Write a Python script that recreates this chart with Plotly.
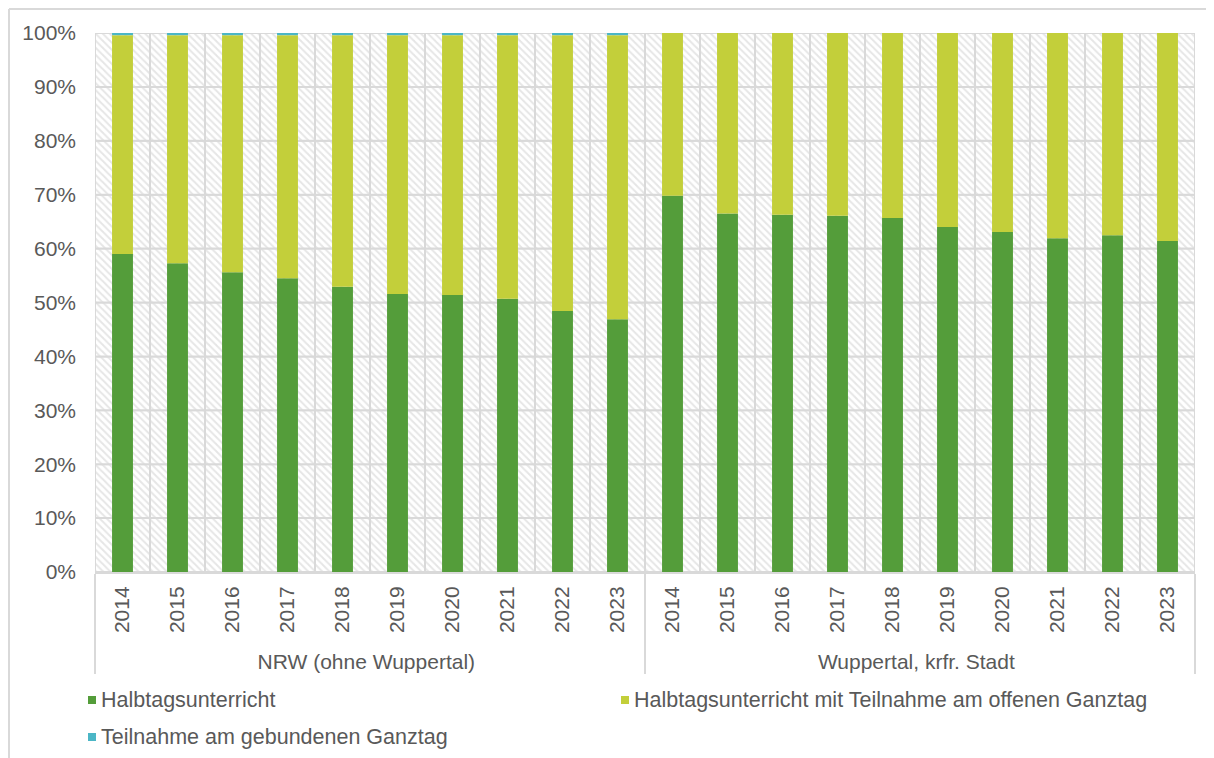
import numpy as np
import plotly.graph_objects as go

# ---------------- data ----------------
regions = ["NRW (ohne Wuppertal)", "Wuppertal, krfr. Stadt"]
years = ["2014", "2015", "2016", "2017", "2018", "2019", "2020", "2021", "2022", "2023"]

series_names = [
    "Halbtagsunterricht",
    "Halbtagsunterricht mit Teilnahme am offenen Ganztag",
    "Teilnahme am gebundenen Ganztag",
]

halbtag_nrw = [59.0, 57.3, 55.6, 54.5, 52.9, 51.6, 51.4, 50.7, 48.4, 46.9]
offen_nrw = [40.6, 42.3, 44.0, 45.1, 46.7, 48.0, 48.2, 48.9, 51.2, 52.7]
gebunden_nrw = [0.4, 0.4, 0.4, 0.4, 0.4, 0.4, 0.4, 0.4, 0.4, 0.4]

halbtag_wup = [69.8, 66.5, 66.3, 66.1, 65.7, 64.0, 63.1, 61.9, 62.5, 61.4]
offen_wup = [30.2, 33.5, 33.7, 33.9, 34.3, 36.0, 36.9, 38.1, 37.5, 38.6]
gebunden_wup = [0.0, 0.0, 0.0, 0.0, 0.0, 0.0, 0.0, 0.0, 0.0, 0.0]

y_ticks = [0, 10, 20, 30, 40, 50, 60, 70, 80, 90, 100]
y_ticktext = ["0%", "10%", "20%", "30%", "40%", "50%", "60%", "70%", "80%", "90%", "100%"]

# ---------------- styling ----------------
colors = ["#549d3a", "#c3cf3a", "#4bb6c6"]
grid_color = "#d9d9d9"
text_color = "#595959"
FONT = "Liberation Sans, Arial, sans-serif"
FS = 21

# page body adds an 8px offset; work in screenshot pixels via OFF
OFF = 8
W, H = 1214 - OFF, 758 - OFF
PL, PR, PT, PB = 95, 1195, 33, 572          # plot area in screenshot px
ML, MT = PL - OFF, PT - OFF
MR, MB = W - (PR - OFF), H - (PB - OFF)
PW, PH = PR - PL, PB - PT


def px_x(px):
    return (px - PL) / PW


def px_y(py):
    return (PB - py) / PH


x_outer = [r for r in regions for _ in years]
x_inner = [y for _ in regions for y in years]
xcat = [x_outer, x_inner]

values = [
    np.array(halbtag_nrw + halbtag_wup),
    np.array(offen_nrw + offen_wup),
    np.array(gebunden_nrw + gebunden_wup),
]
bases = [np.zeros(len(x_inner))]
for v in values[:-1]:
    bases.append(bases[-1] + v)

fig = go.Figure()

# hatched background cells (form the grid)
step = y_ticks[1] - y_ticks[0]
hx_outer, hx_inner, hbase, hy = [], [], [], []
for t in y_ticks[:-1]:
    hx_outer += x_outer
    hx_inner += x_inner
    hbase += [t] * len(x_inner)
    hy += [step] * len(x_inner)
fig.add_trace(go.Bar(
    x=[hx_outer, hx_inner], y=hy, base=hbase, width=1,
    marker=dict(color="white",
                pattern=dict(shape="\\", fgcolor="#cdcdcd", bgcolor="white",
                             size=5, solidity=0.4),
                line=dict(color=grid_color, width=2)),
    opacity=1, showlegend=False, hoverinfo="skip",
))

for name, v, b, c in zip(series_names, values, bases, colors):
    fig.add_trace(go.Bar(
        x=xcat, y=v, base=b, name=name, width=0.38,
        marker=dict(color=c, line=dict(width=0)),
        opacity=1, showlegend=False,
    ))

# manual legend
legend_pos = [(88, 700), (621, 700), (88, 737)]
shapes = []
annotations = []
for (lx, ly), name, c in zip(legend_pos, series_names, colors):
    shapes.append(dict(type="rect", xref="paper", yref="paper",
                       x0=px_x(lx), x1=px_x(lx + 8), y0=px_y(ly - 4), y1=px_y(ly + 4),
                       fillcolor=c, line=dict(width=0)))
    annotations.append(dict(xref="paper", yref="paper", x=px_x(lx + 11), y=px_y(ly),
                            xanchor="left", yanchor="middle", showarrow=False,
                            text=name, font=dict(family=FONT, size=21.5, color=text_color)))

# outer frame (top and left edges)
shapes.append(dict(type="line", xref="paper", yref="paper",
                   x0=px_x(9), x1=px_x(1230), y0=px_y(9), y1=px_y(9),
                   line=dict(color=grid_color, width=2)))
shapes.append(dict(type="line", xref="paper", yref="paper",
                   x0=px_x(9), x1=px_x(9), y0=px_y(9), y1=px_y(800),
                   line=dict(color=grid_color, width=2)))

fig.update_layout(
    width=W, height=H,
    margin=dict(l=ML, r=MR, t=MT, b=MB, autoexpand=False),
    barmode="overlay",
    paper_bgcolor="white", plot_bgcolor="white",
    font=dict(family=FONT, size=FS, color=text_color),
    shapes=shapes, annotations=annotations,
    showlegend=False,
)
fig.update_xaxes(
    type="multicategory", tickangle=-90, showgrid=False, zeroline=False,
    showline=True, linecolor=grid_color, linewidth=2,
    showdividers=True, dividercolor=grid_color, dividerwidth=2,
    ticks="", ticklabelstandoff=4,
    tickfont=dict(family=FONT, size=FS, color=text_color),
)
fig.update_yaxes(
    range=[0, 100], tickmode="array", tickvals=y_ticks, ticktext=y_ticktext,
    showgrid=False, zeroline=False, showline=False, ticks="", ticklabelstandoff=18,
    tickfont=dict(family=FONT, size=FS, color=text_color),
)

fig.write_html("out.html")
